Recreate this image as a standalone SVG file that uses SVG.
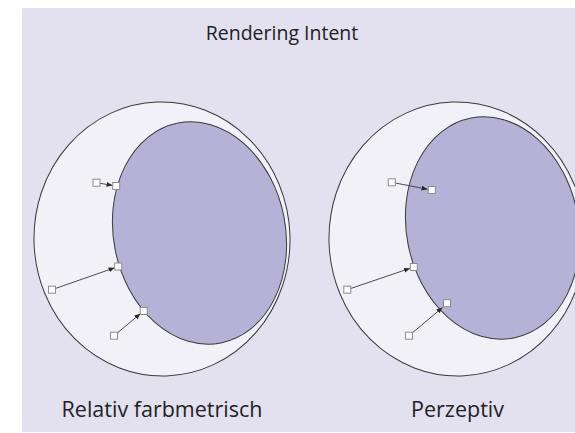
<svg xmlns="http://www.w3.org/2000/svg" width="575" height="433" viewBox="0 0 575 433">
  <style>
    .bg { fill: #e3e1f0; }
    .outer { fill: #f1f1f7; stroke: #3a3a3a; stroke-width: 1; }
    .inner { fill: #b6b1d7; stroke: #3a3a3a; stroke-width: 1; }
    .sq { fill: #ffffff; stroke: #8c8c8c; stroke-width: 1; }
    .conn { stroke: #3a3a3a; stroke-width: 0.9; fill: none; marker-end: url(#arrow); }
    .title { font-family: "Open Sans", "Liberation Sans", sans-serif; font-size: 19.5px; fill: #222222; text-anchor: middle; }
    .label { font-family: "Open Sans", "Liberation Sans", sans-serif; font-size: 21.5px; fill: #222222; text-anchor: middle; }
  </style>
  <defs>
    <marker id="arrow" markerUnits="userSpaceOnUse" markerWidth="7" markerHeight="6" refX="6" refY="2.5" orient="auto">
      <path d="M0,0 L6,2.5 L0,5 z" fill="#2a2a2a"/>
    </marker>
  </defs>

  <rect class="bg" x="22" y="8" width="553" height="424"/>

  <g id="title"><text class="title" x="282" y="40">Rendering Intent</text></g>

  <g id="left-gamut">
    <ellipse class="outer" cx="162" cy="239" rx="128" ry="137" transform="rotate(-2 162 239)"/>
    <ellipse class="inner" cx="199.5" cy="233" rx="86" ry="112" transform="rotate(-11 199.5 233)"/>
  </g>

  <g id="right-gamut">
    <ellipse class="outer" cx="457" cy="239" rx="128" ry="137" transform="rotate(-2 457 239)"/>
    <ellipse class="inner" cx="492.5" cy="228" rx="86" ry="112" transform="rotate(-11 492.5 228)"/>
  </g>

  <g id="connectors">
    <line class="conn" x1="100.1" y1="183.3" x2="112.5" y2="185.4"/>
    <line class="conn" x1="55.6" y1="288.4" x2="114.6" y2="267.8"/>
    <line class="conn" x1="117.5" y1="332.8" x2="140.4" y2="313.7"/>
    <line class="conn" x1="395.3" y1="183" x2="427.5" y2="189.2"/>
    <line class="conn" x1="351" y1="288.4" x2="410.1" y2="268.3"/>
    <line class="conn" x1="412.5" y1="332.7" x2="442.5" y2="307.5"/>
  </g>

  <g id="left-points">
    <rect class="sq" x="93" y="179.2" width="7" height="7"/>
    <rect class="sq" x="112.7" y="182.5" width="7" height="7"/>
    <rect class="sq" x="48.5" y="286.2" width="7" height="7"/>
    <rect class="sq" x="114.7" y="263" width="7" height="7"/>
    <rect class="sq" x="110.5" y="332.2" width="7" height="7"/>
    <rect class="sq" x="140.2" y="307.5" width="7" height="7"/>
  </g>

  <g id="right-points">
    <rect class="sq" x="388.3" y="178.8" width="7" height="7"/>
    <rect class="sq" x="428.3" y="186.5" width="7" height="7"/>
    <rect class="sq" x="343.8" y="286.2" width="7" height="7"/>
    <rect class="sq" x="410.3" y="263.5" width="7" height="7"/>
    <rect class="sq" x="405.5" y="332.2" width="7" height="7"/>
    <rect class="sq" x="443.5" y="299.7" width="7" height="7"/>
  </g>

  <g id="label-left"><text class="label" x="162" y="417">Relativ farbmetrisch</text></g>
  <g id="label-right"><text class="label" x="457.5" y="417">Perzeptiv</text></g>
</svg>
